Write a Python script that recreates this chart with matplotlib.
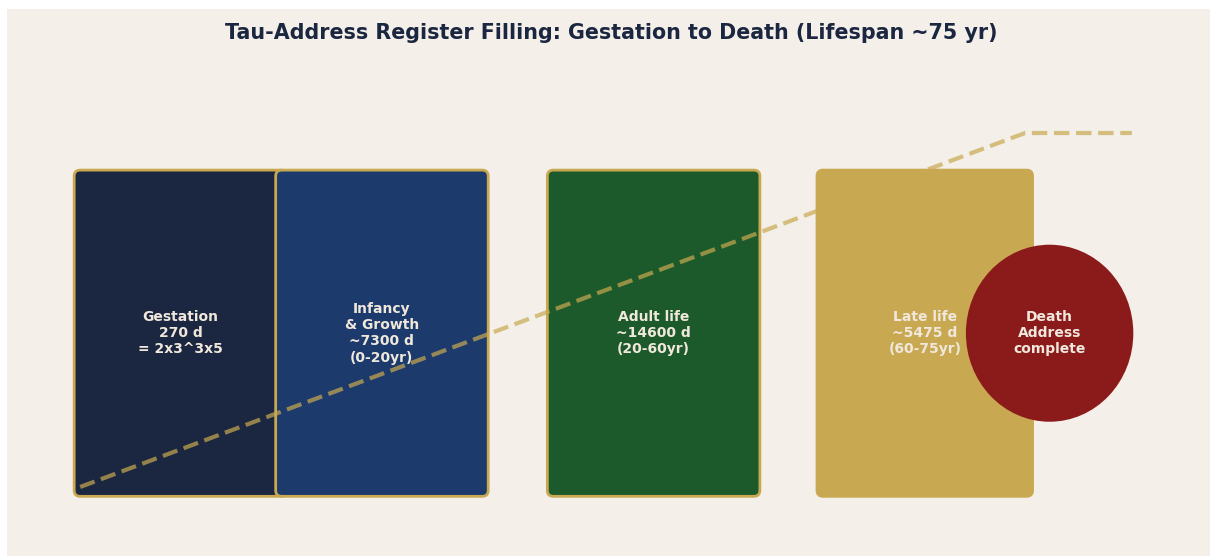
import matplotlib.pyplot as plt
from matplotlib.patches import FancyBboxPatch, Ellipse

BG = '#f4efe8'
GOLD = '#c8a850'
NAVY = '#1b2741'
TEXT_LIGHT = '#f0e8dc'

title = 'Tau-Address Register Filling: Gestation to Death (Lifespan ~75 yr)'

# phases of the register (left edge, width in axis units)
phase_labels = ['Gestation\n270 d\n= 2x3^3x5',
                'Infancy\n& Growth\n~7300 d\n(0-20yr)',
                'Adult life\n~14600 d\n(20-60yr)',
                'Late life\n~5475 d\n(60-75yr)']
phase_x0 = [0.67, 2.68, 5.39, 8.08]
phase_w = [2.12, 2.12, 2.12, 2.15]
phase_colors = ['#1b2741', '#1c3a6b', '#1c5a2b', '#c8a850']

box_y0 = 0.6
box_h = 3.28

death_label = 'Death\nAddress\ncomplete'
death_x = 10.40
death_w = 1.67
death_h = 1.78

# cumulative fill line
fill_x = [0.73, 10.155, 11.22]
fill_y = [0.694, 4.253, 4.253]

fig = plt.figure(figsize=(12.12, 5.58), dpi=100)
fig.patch.set_facecolor('white')

# axes fills the beige panel
ax = fig.add_axes([7 / 1212, 2 / 558, 1203 / 1212, 547 / 558])
ax.set_facecolor(BG)
ax.set_xlim(0, 12)
ax.set_ylim(0, 5.5)
ax.set_xticks([])
ax.set_yticks([])
for s in ax.spines.values():
    s.set_visible(False)

yc = box_y0 + box_h / 2
for lab, x0, w, c in zip(phase_labels, phase_x0, phase_w, phase_colors):
    box = FancyBboxPatch((x0, box_y0), w, box_h,
                         boxstyle='round,pad=0,rounding_size=0.06',
                         facecolor=c, edgecolor=GOLD, linewidth=2, zorder=2)
    ax.add_patch(box)
    ax.text(x0 + w / 2, yc, lab, ha='center', va='center', color=TEXT_LIGHT,
            fontsize=10, fontweight='bold', zorder=5)

ax.plot(fill_x, fill_y, color=GOLD, lw=3, ls='--', alpha=0.7, zorder=3)

circ = Ellipse((death_x, yc), death_w, death_h, facecolor='#8b1a1a',
               edgecolor='none', zorder=4)
ax.add_patch(circ)
ax.text(death_x, yc, death_label, ha='center', va='center', color=TEXT_LIGHT,
        fontsize=10, fontweight='bold', zorder=5)

ax.text(6.03, 5.26, title, ha='center', va='center', color=NAVY,
        fontsize=14.85, fontweight='bold')

fig.savefig('out.png', dpi=100, facecolor='white')
